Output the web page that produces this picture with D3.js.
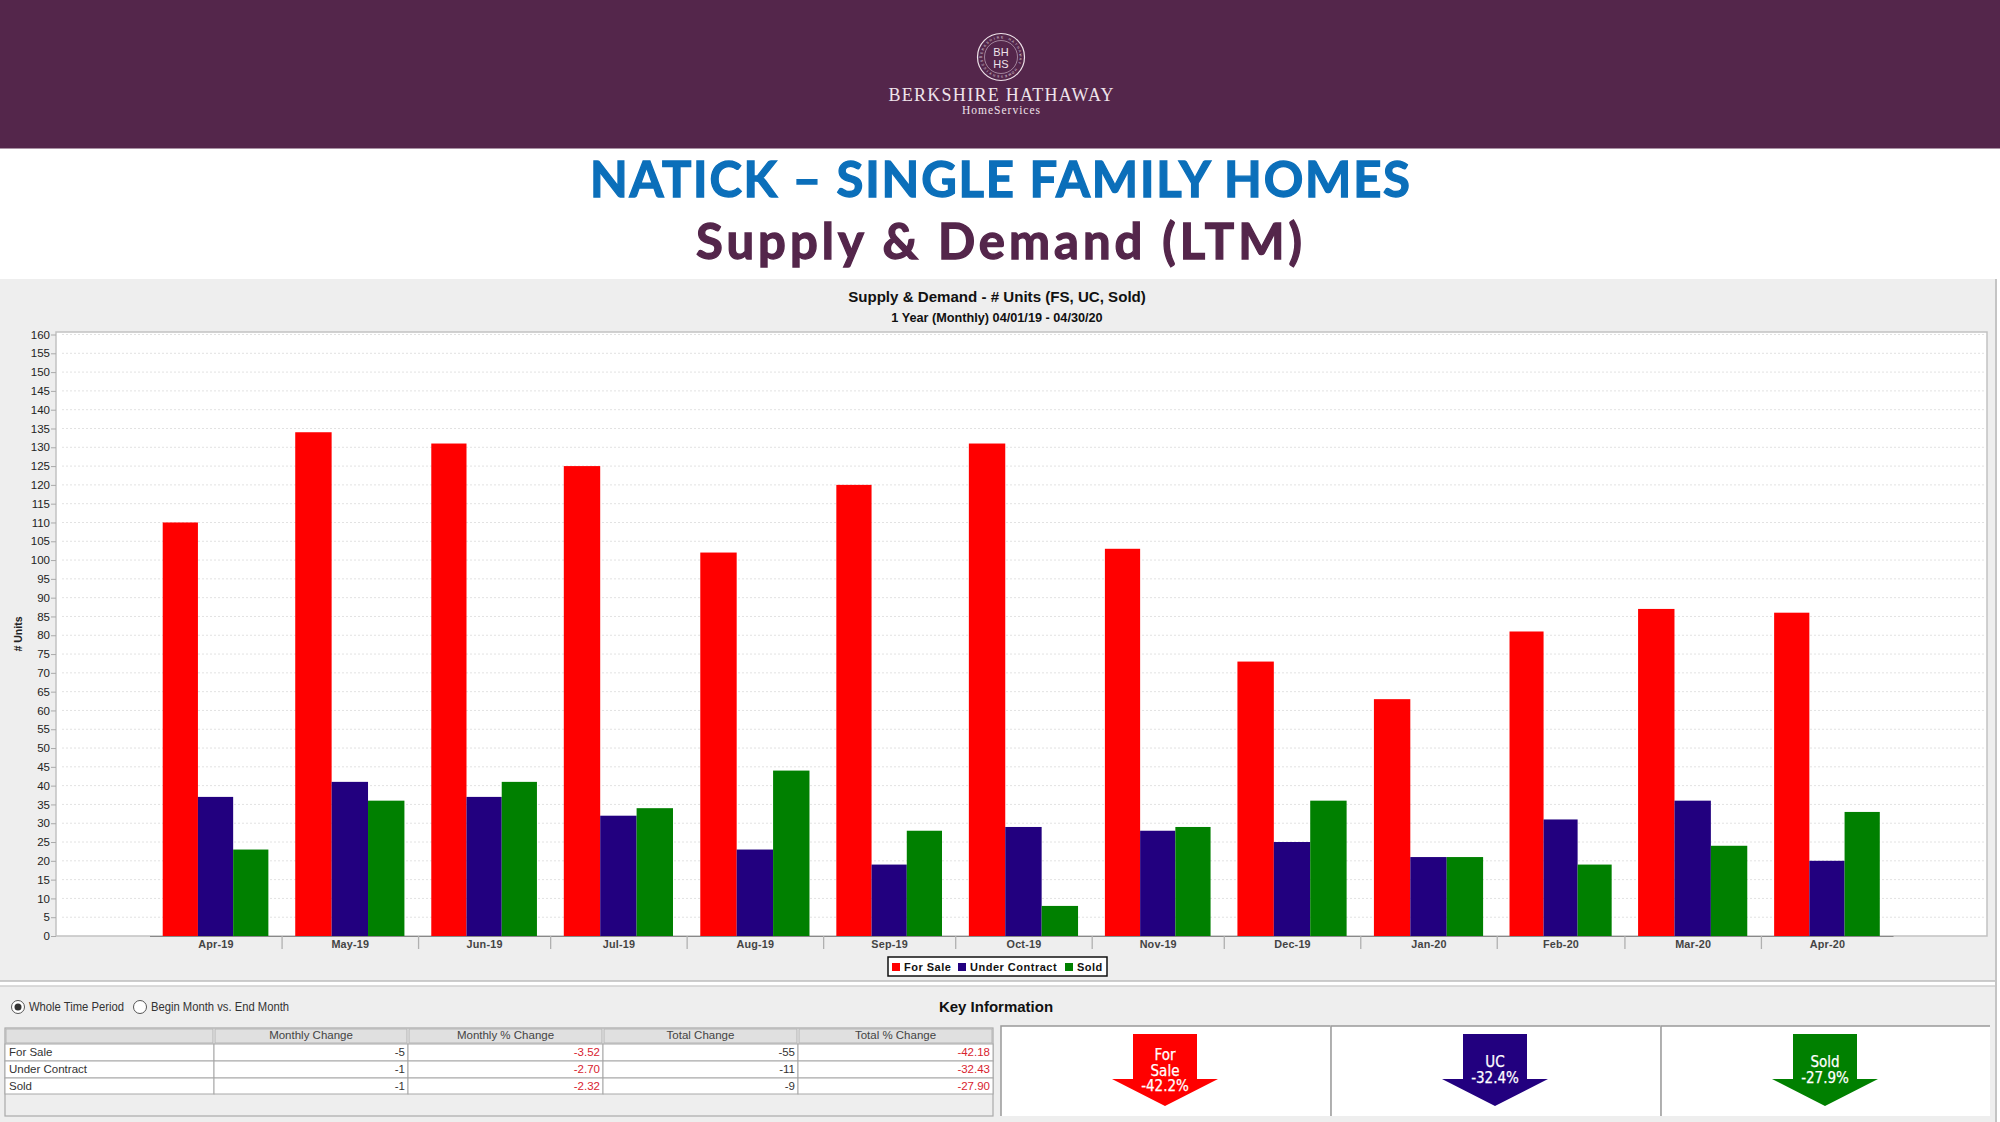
<!DOCTYPE html>
<html>
<head>
<meta charset="utf-8">
<script src="https://cdn.jsdelivr.net/npm/d3@7"></script>
<style>
    html, body { margin: 0; padding: 0; background: #fff; }
    svg { display: block; }
    text { font-family: "Liberation Sans", Arial, sans-serif; }
    .heading { font-family: Lato, "Noto Sans", sans-serif; font-weight: 700; stroke-width: 1.3; }
    .narrow { font-family: "Liberation Sans Narrow", "DejaVu Sans", sans-serif; font-stretch: condensed; }
</style>
</head>
<body>
<div id="chart"></div>
<script>
const months = ["Apr-19", "May-19", "Jun-19", "Jul-19", "Aug-19", "Sep-19", "Oct-19", "Nov-19", "Dec-19", "Jan-20", "Feb-20", "Mar-20", "Apr-20"];
const seriesNames = ["For Sale", "Under Contract", "Sold"];
const forSale = [110, 134, 131, 125, 102, 120, 131, 103, 73, 63, 81, 87, 86];
const underContract = [37, 41, 37, 32, 23, 19, 29, 28, 25, 21, 31, 36, 20];
const sold = [23, 36, 41, 34, 44, 28, 8, 29, 36, 21, 19, 24, 33];
const seriesColors = ["#ff0000", "#22007f", "#008000"];

const tableHeaders = ["", "Monthly Change", "Monthly % Change", "Total Change", "Total % Change"];
const monthlyChange = ["-5", "-1", "-1"];
const monthlyPct = ["-3.52", "-2.70", "-2.32"];
const totalChange = ["-55", "-11", "-9"];
const totalPct = ["-42.18", "-32.43", "-27.90"];
const arrowLabels = [["For", "Sale", "-42.2%"], ["UC", "-32.4%"], ["Sold", "-27.9%"]];

const width = 2000, height = 1122;
const purple = "#54264b";

const svg = d3.select("#chart").append("svg")
    .attr("width", width)
    .attr("height", height);

// header band and logo
svg.append("rect").attr("width", width).attr("height", 148.5).attr("fill", purple);

const logo = svg.append("g").attr("transform", "translate(1001,57)").attr("fill", "#efe3ea");
logo.append("circle").attr("r", 23.5).attr("fill", "none").attr("stroke", "#efe3ea").attr("stroke-width", 1.2);
logo.append("circle").attr("r", 16.5).attr("fill", "none").attr("stroke", "#efe3ea").attr("stroke-width", 0.5);
logo.append("text").attr("text-anchor", "middle").attr("y", -1).attr("font-size", 11).text("BH");
logo.append("text").attr("text-anchor", "middle").attr("y", 11).attr("font-size", 11).text("HS");

// ring lettering is placed letter by letter so each one follows the circle
const ringLetters = "BERKSHIRE HATHAWAY HOMESERVICES".split("");
logo.append("g").selectAll("text")
    .data(ringLetters)
    .join("text")
    .attr("text-anchor", "middle")
    .attr("font-size", 3.2)
    .attr("transform", (d, i) => {
        const a = -90 + i * 360 / ringLetters.length;
        return `rotate(${a}) translate(0,-18.6)`;
    })
    .text(d => d);

svg.append("text").attr("x", 1001).attr("y", 101).attr("text-anchor", "middle")
    .attr("fill", "#efe3ea").style("font-family", "'Liberation Serif', serif").attr("font-size", 18)
    .attr("textLength", 225).text("BERKSHIRE HATHAWAY");
svg.append("text").attr("x", 1001).attr("y", 114).attr("text-anchor", "middle")
    .attr("fill", "#efe3ea").style("font-family", "'Liberation Serif', serif").attr("font-size", 11.5)
    .attr("textLength", 78).text("HomeServices");

// slide titles
svg.append("text").attr("class", "heading").attr("x", 1000).attr("y", 196.5).attr("text-anchor", "middle")
    .attr("fill", "#0b6fba").attr("stroke", "#0b6fba").attr("font-size", 49).attr("textLength", 820)
    .text("NATICK – SINGLE FAMILY HOMES");
svg.append("text").attr("class", "heading").attr("x", 999).attr("y", 258.5).attr("text-anchor", "middle")
    .attr("fill", purple).attr("stroke", purple).attr("font-size", 49).attr("textLength", 606)
    .text("Supply & Demand (LTM)");

// grey panels
svg.append("rect").attr("y", 279).attr("width", 1996).attr("height", 702).attr("fill", "#eeeeee");
svg.append("rect").attr("y", 986).attr("width", 1996).attr("height", 136).attr("fill", "#eeeeee");
svg.append("line").attr("x1", 0).attr("x2", 1996).attr("y1", 981).attr("y2", 981).attr("stroke", "#bdbdbd").attr("stroke-width", 1.5);
svg.append("line").attr("x1", 0).attr("x2", 1996).attr("y1", 986).attr("y2", 986).attr("stroke", "#cfcfcf").attr("stroke-width", 1.5);
svg.append("line").attr("x1", 1996).attr("x2", 1996).attr("y1", 279).attr("y2", 1122).attr("stroke", "#c4c4c4").attr("stroke-width", 2);

svg.append("text").attr("x", 997).attr("y", 302).attr("text-anchor", "middle")
    .attr("font-size", 15.1).attr("font-weight", "bold").attr("fill", "#111")
    .text("Supply & Demand - # Units (FS, UC, Sold)");
svg.append("text").attr("x", 997).attr("y", 322).attr("text-anchor", "middle")
    .attr("font-size", 12.7).attr("font-weight", "bold").attr("fill", "#111")
    .text("1 Year (Monthly) 04/01/19 - 04/30/20");

// plot area
const plot = { left: 56, right: 1987, top: 332, bottom: 936 };
svg.append("rect")
    .attr("x", plot.left).attr("y", plot.top)
    .attr("width", plot.right - plot.left).attr("height", plot.bottom - plot.top)
    .attr("fill", "#fff").attr("stroke", "#c2c2c2").attr("stroke-width", 1.5);

const y = d3.scaleLinear().domain([0, 160]).range([plot.bottom, 334.5]);

// months are not equally wide, so the x scale is a real time scale
const parseMonth = d3.utcParse("%b-%y");
const monthStarts = months.map(parseMonth);
const monthEnds = monthStarts.map(d => d3.utcMonth.offset(d, 1));
const x = d3.scaleUtc()
    .domain([monthStarts[0], monthEnds[monthEnds.length - 1]])
    .range([149.5, 1893]);

const yAxis = d3.axisLeft(y).tickValues(d3.range(0, 161, 5)).tickSize(5).tickPadding(1);
const yG = svg.append("g").attr("transform", `translate(${plot.left},0)`).call(yAxis);
yG.select(".domain").remove();
yG.selectAll("line").attr("stroke", "#aaa");
yG.selectAll("text").attr("font-size", 11.5).attr("fill", "#222").style("font-family", "'Liberation Sans', Arial, sans-serif");

svg.append("g").selectAll("line")
    .data(d3.range(5, 161, 5))
    .join("line")
    .attr("x1", plot.left + 6).attr("x2", plot.right - 3)
    .attr("y1", d => y(d)).attr("y2", d => y(d))
    .attr("stroke", "#e2e2e2").attr("stroke-dasharray", "2,2");

const allSeries = [forSale, underContract, sold];
const groups = svg.append("g").selectAll("g")
    .data(months)
    .join("g");

groups.each(function(m, i) {
    const x0 = x(monthStarts[i]), x1 = x(monthEnds[i]);
    const pad = (x1 - x0) * 0.1;
    const xBar = d3.scaleBand().domain(seriesNames).range([x0 + pad, x1 - pad]);
    d3.select(this).selectAll("rect")
        .data(seriesNames)
        .join("rect")
        .attr("x", d => xBar(d))
        .attr("y", (d, s) => y(allSeries[s][i]))
        .attr("width", xBar.bandwidth())
        .attr("height", (d, s) => y(0) - y(allSeries[s][i]))
        .attr("fill", (d, s) => seriesColors[s]);
});

// x axis: separators sit on month boundaries, labels in the middle of the month
const xAxis = d3.axisBottom(x).tickValues(monthStarts.slice(1)).tickSizeInner(13).tickSizeOuter(0).tickFormat("");
const xG = svg.append("g").attr("transform", `translate(0,${plot.bottom})`).call(xAxis);
xG.select(".domain").attr("stroke", "#888").attr("stroke-width", 1.2);
xG.selectAll("line").attr("stroke", "#b0b0b0").attr("stroke-width", 1.3);

svg.append("g").selectAll("text")
    .data(months)
    .join("text")
    .attr("x", (d, i) => (x(monthStarts[i]) + x(monthEnds[i])) / 2 + 0.5)
    .attr("y", 947.5)
    .attr("text-anchor", "middle")
    .attr("font-size", 10.8)
    .attr("font-weight", "bold")
    .attr("fill", "#444")
    .attr("letter-spacing", 0.2)
    .text(d => d);

svg.append("text")
    .attr("transform", "translate(22,634) rotate(-90)")
    .attr("text-anchor", "middle").attr("font-size", 10.5).attr("font-weight", "bold").attr("fill", "#222")
    .text("# Units");

// legend
const legendX = [892, 958, 1065];
const legend = svg.append("g");
legend.append("rect").attr("x", 888).attr("y", 957).attr("width", 219).attr("height", 19)
    .attr("fill", "#fff").attr("stroke", "#111").attr("stroke-width", 1.5);
seriesNames.forEach((name, i) => {
    legend.append("rect").attr("x", legendX[i]).attr("y", 963).attr("width", 8).attr("height", 8).attr("fill", seriesColors[i]);
    legend.append("text").attr("x", legendX[i] + 12).attr("y", 970.5)
        .attr("font-size", 11).attr("font-weight", "bold").attr("letter-spacing", 0.5).attr("fill", "#111")
        .text(name);
});

// radio buttons
const radios = [{ x: 18, tx: 29, w: 95, label: "Whole Time Period", on: true }, { x: 140, tx: 151, w: 138, label: "Begin Month vs. End Month", on: false }];
radios.forEach(r => {
    svg.append("circle").attr("cx", r.x).attr("cy", 1007).attr("r", 6.5).attr("fill", "#fff").attr("stroke", "#555");
    if (r.on) svg.append("circle").attr("cx", r.x).attr("cy", 1007).attr("r", 3.5).attr("fill", "#333");
    svg.append("text").attr("x", r.tx).attr("y", 1011).attr("font-size", 12).attr("fill", "#333")
        .attr("textLength", r.w).attr("lengthAdjust", "spacingAndGlyphs").text(r.label);
});

svg.append("text").attr("x", 996).attr("y", 1012).attr("text-anchor", "middle")
    .attr("font-size", 15).attr("font-weight", "bold").attr("fill", "#111").text("Key Information");

// change table
const colX = [5, 214, 408, 603, 798, 993];
const rowY = [1028, 1044, 1061, 1078, 1094];
svg.append("rect").attr("x", colX[0]).attr("y", rowY[0]).attr("width", colX[5] - colX[0]).attr("height", 88)
    .attr("fill", "#eeeeee").attr("stroke", "#aaa").attr("stroke-width", 1.2);

tableHeaders.forEach((h, c) => {
    svg.append("rect").attr("x", colX[c] + 1).attr("y", rowY[0] + 1)
        .attr("width", colX[c + 1] - colX[c] - 2).attr("height", rowY[1] - rowY[0] - 2)
        .attr("fill", "#e0e0e0").attr("stroke", "#b5b5b5");
    svg.append("text").attr("x", (colX[c] + colX[c + 1]) / 2).attr("y", 1039).attr("text-anchor", "middle")
        .attr("font-size", 11.5).attr("fill", "#444").text(h);
});

seriesNames.forEach((name, r) => {
    const cells = [name, monthlyChange[r], monthlyPct[r], totalChange[r], totalPct[r]];
    cells.forEach((val, c) => {
        svg.append("rect").attr("x", colX[c]).attr("y", rowY[r + 1])
            .attr("width", colX[c + 1] - colX[c]).attr("height", rowY[r + 2] - rowY[r + 1])
            .attr("fill", "#fff").attr("stroke", "#a8a8a8");
        const isPct = c === 2 || c === 4;
        svg.append("text")
            .attr("x", c === 0 ? colX[0] + 4 : colX[c + 1] - 3)
            .attr("y", rowY[r + 1] + 11.5)
            .attr("text-anchor", c === 0 ? "start" : "end")
            .attr("font-size", 11.5)
            .attr("fill", isPct ? "#d8232f" : "#333")
            .text(val);
    });
});

// key information arrows
const cellX = [1001, 1331, 1661];
const cellW = 329;
cellX.forEach((cx, i) => {
    svg.append("rect").attr("x", cx).attr("y", 1026).attr("width", cellW).attr("height", 90).attr("fill", "#fff");
    svg.append("path").attr("d", `M${cx},1116V1026H${cx + cellW}`).attr("fill", "none").attr("stroke", "#999").attr("stroke-width", 1.5);

    const c = cx + 164;
    const path = d3.path();
    path.moveTo(c - 32, 1034);
    path.lineTo(c + 32, 1034);
    path.lineTo(c + 32, 1079);
    path.lineTo(c + 53, 1079);
    path.lineTo(c, 1106);
    path.lineTo(c - 53, 1079);
    path.lineTo(c - 32, 1079);
    path.closePath();
    svg.append("path").attr("d", path.toString()).attr("fill", seriesColors[i]);

    const lines = arrowLabels[i];
    const startY = lines.length === 3 ? 1060 : 1067;
    lines.forEach((t, k) => {
        svg.append("text").attr("class", "narrow")
            .attr("x", c).attr("y", startY + k * 15.5)
            .attr("text-anchor", "middle").attr("font-size", 15).attr("fill", "#fff")
            .attr("stroke", "#fff").attr("stroke-width", 0.25)
            .text(t);
    });
});
</script>
</body>
</html>
